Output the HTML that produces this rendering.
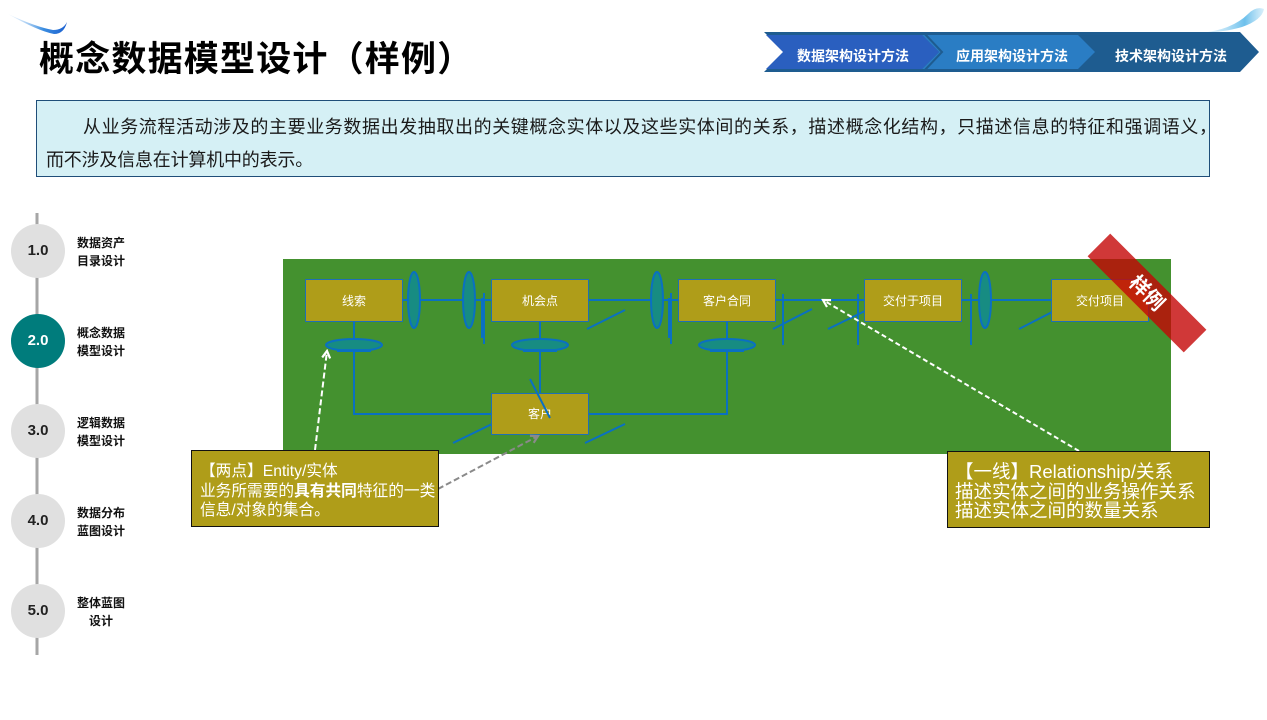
<!DOCTYPE html>
<html><head><meta charset="utf-8">
<style>
*{margin:0;padding:0;box-sizing:border-box}
html,body{width:1267px;height:720px;overflow:hidden;background:#fff}
body{position:relative;font-family:"Liberation Sans","Noto Sans CJK SC",sans-serif;color:#111}
.abs{position:absolute}
.title{left:39px;top:40px;font-size:35px;font-weight:bold;line-height:40px;color:#000;white-space:nowrap;letter-spacing:1.2px}
.desc{left:36px;top:100px;width:1174px;height:77px;background:#D5F0F5;border:1px solid #1F4E79}
.desc div{position:absolute;font-size:18px;line-height:22px;white-space:nowrap;color:#1a1a1a}
.circ{position:absolute;width:54px;height:54px;border-radius:50%;background:#E0E0E0;left:11px;text-align:center;line-height:54px;font-size:15px;font-weight:bold;color:#222}
.circ.on{background:#007C7C;color:#fff}
.lab{position:absolute;left:77px;width:48px;text-align:center;font-size:12px;font-weight:bold;line-height:18px;color:#111;white-space:nowrap}
.call{position:absolute;background:#AF9D19;border:1.5px solid #111;color:#fff;white-space:nowrap}
</style></head><body>

<svg class="abs" style="left:0;top:0" width="1267" height="720" viewBox="0 0 1267 720" xmlns="http://www.w3.org/2000/svg">
<defs>
<linearGradient id="sw1" x1="0" y1="0" x2="1" y2="0">
<stop offset="0" stop-color="#cfe6fb" stop-opacity="0.3"/>
<stop offset="0.6" stop-color="#3b8de0"/>
<stop offset="1" stop-color="#1a5fd0"/>
</linearGradient>
<linearGradient id="sw2" x1="0" y1="0" x2="1" y2="0">
<stop offset="0" stop-color="#bfe3f7" stop-opacity="0.2"/>
<stop offset="0.7" stop-color="#6cc0ec"/>
<stop offset="1" stop-color="#9fd6f3" stop-opacity="0.4"/>
</linearGradient>
<marker id="aw" viewBox="0 0 10 10" refX="8" refY="5" markerWidth="5" markerHeight="5" orient="auto">
<path d="M1,1 L8,5 L1,9" fill="none" stroke="#fff" stroke-width="2.2"/>
</marker>
<marker id="ag" viewBox="0 0 10 10" refX="8" refY="5" markerWidth="5" markerHeight="5" orient="auto">
<path d="M1,1 L8,5 L1,9" fill="none" stroke="#8a8a8a" stroke-width="2.2"/>
</marker>
</defs>

<!-- swooshes -->
<path d="M8,14 Q38,31 54,34 Q64,34 67,22 Q63,30 53,30 Q36,27 8,14 Z" fill="url(#sw1)"/>
<path d="M1200,33 Q1232,30 1248,14 Q1256,6 1264,9 Q1262,20 1242,27 Q1225,32 1200,33 Z" fill="url(#sw2)"/>

<!-- chevrons -->
<polygon points="764,32 1240,32 1259,52 1240,72 764,72 784,52" fill="#1E5C90"/>
<polygon points="922,35 1078,35 1095,52 1078,69 922,69 939,52" fill="#2A7DC4"/>
<polygon points="766,35 922,35 939,52 922,69 766,69 783,52" fill="#2A5FBF"/>
<polyline points="924,33 942,52 924,71" fill="none" stroke="#1E5C90" stroke-width="2"/>
<polyline points="1080,33 1098,52 1080,71" fill="none" stroke="#1E5C90" stroke-width="2"/>
<text x="853" y="61" font-size="14" font-weight="bold" fill="#fff" text-anchor="middle" font-family="Liberation Sans, Noto Sans CJK SC, sans-serif">数据架构设计方法</text>
<text x="1012" y="61" font-size="14" font-weight="bold" fill="#fff" text-anchor="middle" font-family="Liberation Sans, Noto Sans CJK SC, sans-serif">应用架构设计方法</text>
<text x="1171" y="61" font-size="14" font-weight="bold" fill="#fff" text-anchor="middle" font-family="Liberation Sans, Noto Sans CJK SC, sans-serif">技术架构设计方法</text>

<!-- green area -->
<rect x="283" y="259" width="888" height="195" fill="#44912F"/>

<g stroke="#0A70C2" stroke-width="2" fill="none">
<line x1="402" y1="300" x2="491" y2="300"/>
<line x1="588" y1="300" x2="678" y2="300"/>
<line x1="775" y1="300" x2="864" y2="300"/>
<line x1="962" y1="300" x2="1051" y2="300"/>
<polyline points="354,321 354,414 491,414"/>
<line x1="540" y1="321" x2="540" y2="393"/>
<polyline points="727,321 727,414 588,414"/>
<line x1="484" y1="293" x2="484" y2="344"/>
<line x1="482" y1="298" x2="482" y2="338"/>
<line x1="671" y1="293" x2="671" y2="344"/>
<line x1="669" y1="298" x2="669" y2="338"/>
<line x1="783" y1="294" x2="783" y2="345"/>
<line x1="858" y1="294" x2="858" y2="345"/>
<line x1="971" y1="294" x2="971" y2="345"/>
<line x1="587" y1="329" x2="625" y2="310"/>
<line x1="773" y1="329" x2="812" y2="309"/>
<line x1="828" y1="329" x2="867" y2="310"/>
<line x1="1019" y1="329" x2="1058" y2="309"/>
<line x1="453" y1="443" x2="492" y2="424"/>
<line x1="585" y1="443" x2="625" y2="424"/>
</g>
<g fill="#178C82" stroke="#0A70C2" stroke-width="2">
<ellipse cx="414" cy="300" rx="6" ry="28"/>
<ellipse cx="469" cy="300" rx="6" ry="28"/>
<ellipse cx="657" cy="300" rx="6" ry="28"/>
<ellipse cx="985" cy="300" rx="6" ry="28"/>
<ellipse cx="354" cy="345" rx="28" ry="6"/>
<ellipse cx="540" cy="345" rx="28" ry="6"/>
<ellipse cx="727" cy="345" rx="28" ry="6"/>
</g>
<g fill="#0A70C2">
<rect x="337" y="349" width="34" height="3"/>
<rect x="523" y="349" width="34" height="3"/>
<rect x="710" y="349" width="34" height="3"/>
</g>

<g fill="#AF9D19" stroke="#1F6FB5" stroke-width="1">
<rect x="305.5" y="279.5" width="97" height="42"/>
<rect x="491.5" y="279.5" width="97" height="42"/>
<rect x="678.5" y="279.5" width="97" height="42"/>
<rect x="864.5" y="279.5" width="97" height="42"/>
<rect x="1051.5" y="279.5" width="97" height="42"/>
<rect x="491.5" y="393.5" width="97" height="41"/>
</g>
<g fill="#fff" font-size="12" text-anchor="middle" font-family="Liberation Sans, Noto Sans CJK SC, sans-serif">
<text x="354" y="305">线索</text>
<text x="540" y="305">机会点</text>
<text x="727" y="305">客户合同</text>
<text x="913" y="305">交付于项目</text>
<text x="1100" y="305">交付项目</text>
<text x="540" y="418">客户</text>
</g>
<line x1="530" y1="379" x2="550" y2="418" stroke="#0A70C2" stroke-width="2"/>

<!-- ribbon -->
<g transform="translate(1147,293) rotate(45)">
<rect x="-68" y="-16" width="136" height="32" fill="rgb(196,6,6)" fill-opacity="0.8"/>
<text x="0" y="7" font-size="20" font-weight="bold" fill="#fff" text-anchor="middle" font-family="Liberation Sans, Noto Sans CJK SC, sans-serif">样例</text>
</g>

<!-- arrows -->
<line x1="315" y1="450" x2="327" y2="351" stroke="#fff" stroke-width="2" stroke-dasharray="6,3" marker-end="url(#aw)"/>
<line x1="438" y1="489" x2="538" y2="436" stroke="#8a8a8a" stroke-width="2" stroke-dasharray="6,3" marker-end="url(#ag)"/>
<line x1="1079" y1="451" x2="823" y2="300" stroke="#fff" stroke-width="2" stroke-dasharray="5,3" marker-end="url(#aw)"/>

<!-- sidebar line -->
<rect x="35.5" y="213" width="3" height="442" fill="#A6A6A6"/>
</svg>

<div class="abs title">概念数据模型设计（样例）</div>

<div class="abs desc">
<div style="left:46px;top:15px;letter-spacing:0.6px">从业务流程活动涉及的主要业务数据出发抽取出的关键概念实体以及这些实体间的关系，描述概念化结构，只描述信息的特征和强调语义，</div>
<div style="left:9px;top:48px;letter-spacing:-0.2px">而不涉及信息在计算机中的表示。</div>
</div>

<div class="circ" style="top:224px">1.0</div>
<div class="circ on" style="top:314px">2.0</div>
<div class="circ" style="top:404px">3.0</div>
<div class="circ" style="top:494px">4.0</div>
<div class="circ" style="top:584px">5.0</div>
<div class="lab" style="top:234px">数据资产<br>目录设计</div>
<div class="lab" style="top:324px">概念数据<br>模型设计</div>
<div class="lab" style="top:414px">逻辑数据<br>模型设计</div>
<div class="lab" style="top:504px">数据分布<br>蓝图设计</div>
<div class="lab" style="top:594px">整体蓝图<br>设计</div>

<div class="call" style="left:191px;top:450px;width:248px;height:77px;font-size:15.7px;line-height:19.5px;padding:11px 0 0 8px">【两点】Entity/实体<br>业务所需要的<b>具有共同</b>特征的一类<br>信息/对象的集合。</div>

<div class="call" style="left:947px;top:451px;width:263px;height:77px;font-size:18.5px;line-height:19.5px;padding:10px 0 0 7px">【一线】Relationship/关系<br>描述实体之间的业务操作关系<br>描述实体之间的数量关系</div>

</body></html>
